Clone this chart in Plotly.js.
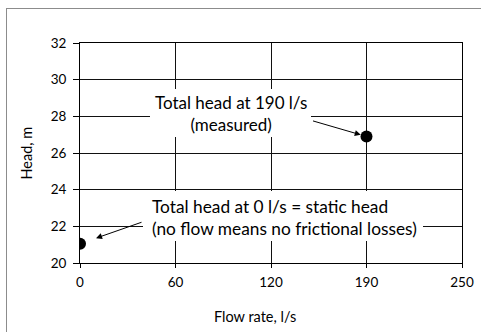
<!DOCTYPE html>
<html>
<head>
<meta charset="utf-8">
<script src="https://cdn.plot.ly/plotly-3.0.1.min.js"></script>
<style>
html,body{margin:0;padding:0;background:#fff;}
#chart{width:481px;height:332px;}
</style>
</head>
<body>
<div id="chart"></div>
<script>
// Data
var flowCategories = ['0', '60', '120', '190', '250'];
var flowRates = ['0', '190'];
var heads = [21.05, 26.9];
var headTicks = [20, 22, 24, 26, 28, 30, 32];
var noteMeasured = 'Total head at 190 l/s<br>(measured)';
var noteStatic = 'Total head at 0 l/s = static head<br>(no flow means no frictional losses)';

var W = 481, H = 332;
var M = {l: 80, r: 19, t: 43, b: 69};
var PW = W - M.l - M.r, PH = H - M.t - M.b;
function px(x) { return (x - M.l) / PW; }
function py(y) { return (H - M.b - y) / PH; }
function catIndex(c) { return flowCategories.indexOf(c); }

var FONT = 'Lato, "Open Sans", sans-serif';

var trace = {
  type: 'scatter',
  mode: 'markers',
  x: flowRates,
  y: heads,
  marker: {color: '#000', size: 12},
  hoverinfo: 'skip',
  showlegend: false
};

var layout = {
  width: W, height: H,
  margin: M,
  paper_bgcolor: '#fff',
  plot_bgcolor: '#fff',
  font: {family: FONT, color: '#000'},
  showlegend: false,
  xaxis: {
    type: 'category',
    categoryorder: 'array',
    categoryarray: flowCategories,
    tickvals: flowCategories,
    range: [0, flowCategories.length - 1],
    showgrid: true, gridcolor: '#111', gridwidth: 1,
    showline: true, linecolor: '#000', linewidth: 1, mirror: true,
    ticks: 'outside', ticklen: 4, tickcolor: '#000',
    ticklabelstandoff: 3,
    tickfont: {family: FONT, size: 13.5, color: '#000'},
    zeroline: false, fixedrange: true
  },
  yaxis: {
    range: [20, 32],
    tickvals: headTicks,
    showgrid: true, gridcolor: '#111', gridwidth: 1,
    showline: true, linecolor: '#000', linewidth: 1, mirror: true,
    ticks: 'outside', ticklen: 6, tickcolor: '#000',
    ticklabelstandoff: 4,
    tickfont: {family: FONT, size: 13.5, color: '#000'},
    zeroline: false, fixedrange: true
  },
  shapes: [
    // outer frame (left and top edges visible)
    {type: 'line', xref: 'paper', yref: 'paper', x0: px(6.5), x1: px(6.5), y0: py(8), y1: py(340), line: {color: '#8c8c8c', width: 1}},
    {type: 'line', xref: 'paper', yref: 'paper', x0: px(6.5), x1: px(490), y0: py(8.5), y1: py(8.5), line: {color: '#8c8c8c', width: 1}},
    // white label boxes
    {type: 'rect', xref: 'paper', yref: 'paper', layer: 'above', x0: px(150), x1: px(311), y0: py(89), y1: py(137), fillcolor: '#fff', line: {width: 0}},
    {type: 'rect', xref: 'paper', yref: 'paper', layer: 'above', x0: px(143), x1: px(423), y0: py(191), y1: py(241), fillcolor: '#fff', line: {width: 0}}
  ],
  annotations: [
    {xref: 'paper', yref: 'paper', x: px(230.8), y: py(113.5), xanchor: 'center', yanchor: 'middle',
     text: noteMeasured, showarrow: false, align: 'center', borderpad: 0, borderwidth: 0,
     font: {family: FONT, size: 17, color: '#000'}},
    {xref: 'paper', yref: 'paper', x: px(151.7), y: py(217.4), xanchor: 'left', yanchor: 'middle',
     text: noteStatic, showarrow: false, align: 'left', borderpad: 0, borderwidth: 0,
     font: {family: FONT, size: 17.3, color: '#000'}},
    {x: catIndex(flowRates[1]), y: heads[1], xref: 'x', yref: 'y', text: '', showarrow: true,
     ax: -55, ay: -16, arrowhead: 2, arrowsize: 1.2, arrowwidth: 1, arrowcolor: '#000', standoff: 6},
    {x: catIndex(flowRates[0]), y: heads[0], xref: 'x', yref: 'y', text: '', showarrow: true,
     ax: 63, ay: -22, arrowhead: 2, arrowsize: 1.2, arrowwidth: 1, arrowcolor: '#000', standoff: 17},
    // axis titles
    {xref: 'paper', yref: 'paper', x: px(25.5), y: py(153), xanchor: 'center', yanchor: 'middle',
     text: 'Head, m', textangle: -90, showarrow: false, font: {family: FONT, size: 14.5, color: '#000'}},
    {xref: 'paper', yref: 'paper', x: px(255), y: py(316), xanchor: 'center', yanchor: 'middle',
     text: 'Flow rate, l/s', showarrow: false, font: {family: FONT, size: 14.5, color: '#000'}}
  ]
};

Plotly.newPlot('chart', [trace], layout, {displayModeBar: false, staticPlot: true});
</script>
</body>
</html>
